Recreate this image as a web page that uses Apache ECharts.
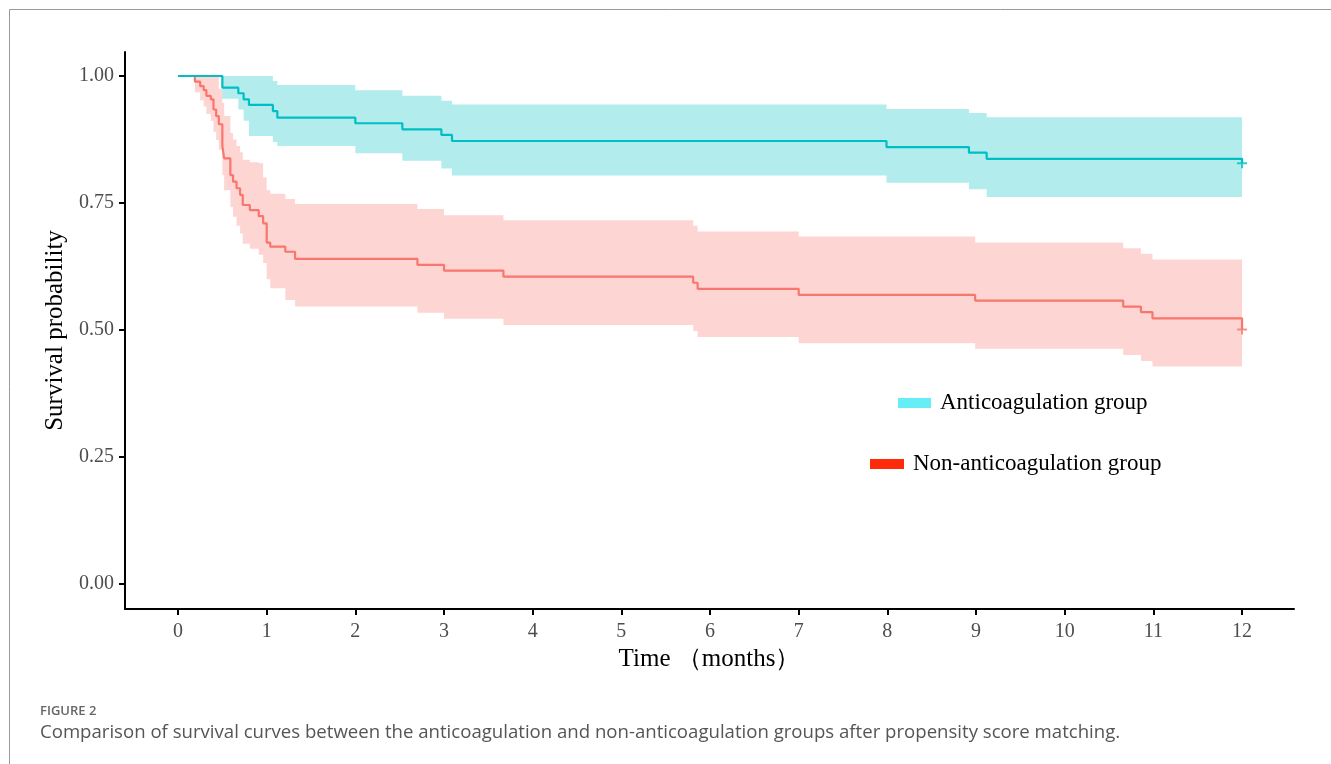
<!DOCTYPE html>
<html>
<head>
<meta charset="utf-8">
<script src="https://cdn.jsdelivr.net/npm/echarts@6/dist/echarts.min.js"></script>
<style>
html,body{margin:0;padding:0;background:#fff;}
#chart{width:1331px;height:764px;}
</style>
</head>
<body>
<div id="chart"></div>
<script>
// ---- data ----
const monthTicks = [0,1,2,3,4,5,6,7,8,9,10,11,12];
const probTicks = [0, 0.25, 0.5, 0.75, 1];
const endTime = 12;

// Anticoagulation group
const antiTime  = [0, 0.50, 0.68, 0.74, 0.80, 1.07, 1.12, 2.00, 2.53, 2.97, 3.09, 7.99, 8.92, 9.12];
const antiSurv  = [1.000, 0.977, 0.966, 0.954, 0.943, 0.931, 0.918, 0.907, 0.895, 0.884, 0.872, 0.860, 0.849, 0.837];
const antiLower = [1.000, 0.955, 0.934, 0.912, 0.882, 0.870, 0.862, 0.848, 0.833, 0.818, 0.804, 0.790, 0.777, 0.762];
const antiUpper = [1.000, 1.000, 1.000, 1.000, 1.000, 0.990, 0.982, 0.972, 0.961, 0.951, 0.944, 0.935, 0.927, 0.919];
const antiEndSurv = 0.828;

// Non-anticoagulation group
const nonTime  = [0, 0.19, 0.25, 0.29, 0.32, 0.37, 0.40, 0.43, 0.46, 0.50, 0.52, 0.59, 0.62, 0.66, 0.70, 0.73, 0.81, 0.91, 0.96, 1.00, 1.04, 1.21, 1.32, 2.70, 3.00, 3.67, 5.81, 5.86, 7.00, 8.99, 10.66, 10.86, 10.99];
const nonSurv  = [1.000, 0.989, 0.980, 0.972, 0.961, 0.954, 0.934, 0.921, 0.905, 0.862, 0.838, 0.805, 0.792, 0.779, 0.766, 0.746, 0.736, 0.724, 0.710, 0.672, 0.664, 0.654, 0.640, 0.628, 0.617, 0.605, 0.593, 0.581, 0.569, 0.558, 0.546, 0.535, 0.523];
const nonLower = [1.000, 0.968, 0.952, 0.940, 0.925, 0.912, 0.890, 0.874, 0.855, 0.805, 0.775, 0.742, 0.723, 0.705, 0.690, 0.670, 0.660, 0.648, 0.632, 0.600, 0.582, 0.559, 0.546, 0.534, 0.522, 0.510, 0.498, 0.486, 0.474, 0.463, 0.451, 0.439, 0.428];
const nonUpper = [1.000, 1.000, 1.000, 1.000, 1.000, 1.000, 1.000, 1.000, 0.975, 0.947, 0.921, 0.888, 0.875, 0.862, 0.850, 0.835, 0.830, 0.828, 0.800, 0.775, 0.768, 0.758, 0.748, 0.738, 0.726, 0.716, 0.705, 0.694, 0.684, 0.672, 0.661, 0.650, 0.639];
const nonEndSurv = 0.501;

const groupNames = ['Anticoagulation group', 'Non-anticoagulation group'];

// ---- styling ----
const TEAL = '#00BFC4', RED = '#F8766D';
const SERIF = '"Liberation Serif","Times New Roman",serif';
const plusPath = 'path://M4,0H6V4H10V6H6V10H4V6H0V4H4Z';

function bandSeries(times, lower, upper, color) {
  const rows = times.map((t, i) => [t, i + 1 < times.length ? times[i + 1] : endTime, lower[i], upper[i]]);
  return {
    type: 'custom', silent: true, z: 1, data: rows,
    encode: { x: [0, 1], y: [2, 3] },
    renderItem: function (params, api) {
      if (params.dataIndex !== 0) return null;
      const top = [], bot = [];
      rows.forEach(r => {
        top.push(api.coord([r[0], r[3]]), api.coord([r[1], r[3]]));
        bot.push(api.coord([r[0], r[2]]), api.coord([r[1], r[2]]));
      });
      return { type: 'polygon', shape: { points: top.concat(bot.reverse()) }, style: { fill: color, opacity: 0.3 } };
    }
  };
}
function lineData(times, surv, endSurv) {
  const d = times.map((t, i) => [t, surv[i]]);
  d.push([endTime, surv[surv.length - 1]]);
  d.push([endTime, endSurv]);
  return d;
}
function lineSeries(name, data, color) {
  return {
    name: name, type: 'line', step: 'end', data: data, showSymbol: false, silent: true, z: 3,
    lineStyle: { color: color, width: 2.2 }, animation: false
  };
}

const chart = echarts.init(document.getElementById('chart'), null, { renderer: 'canvas' });
const option = {
  animation: false,
  backgroundColor: '#fff',
  grid: { left: 125, right: 37, top: 52, bottom: 155 },
  xAxis: {
    type: 'value', min: -0.598, max: 12.586,
    name: 'Time （months）', nameLocation: 'middle', nameGap: 30,
    nameTextStyle: { fontFamily: SERIF, fontSize: 25, color: '#000' },
    axisLine: { onZero: false, lineStyle: { color: '#000', width: 2 } },
    axisTick: { show: true, customValues: monthTicks, length: 6, lineStyle: { color: '#000', width: 2 } },
    axisLabel: { customValues: monthTicks, fontFamily: SERIF, fontSize: 20, color: '#4d4d4d', margin: 13 },
    splitLine: { show: false }
  },
  yAxis: {
    type: 'value', min: -0.0492, max: 1.0472,
    name: 'Survival probability', nameLocation: 'middle', nameGap: 55,
    nameTextStyle: { fontFamily: SERIF, fontSize: 25, color: '#000' },
    axisLine: { show: true, onZero: false, lineStyle: { color: '#000', width: 2 } },
    axisTick: { show: true, customValues: probTicks, length: 6, lineStyle: { color: '#000', width: 2 } },
    axisLabel: { customValues: probTicks, formatter: v => v.toFixed(2), fontFamily: SERIF, fontSize: 20, color: '#4d4d4d', margin: 11 },
    splitLine: { show: false }
  },
  series: [
    bandSeries(nonTime, nonLower, nonUpper, RED),
    bandSeries(antiTime, antiLower, antiUpper, TEAL),
    lineSeries(groupNames[1], lineData(nonTime, nonSurv, nonEndSurv), RED),
    lineSeries(groupNames[0], lineData(antiTime, antiSurv, antiEndSurv), TEAL),
    { type: 'scatter', silent: true, z: 4, symbol: plusPath, symbolSize: 10,
      data: [[endTime, antiEndSurv]], itemStyle: { color: TEAL } },
    { type: 'scatter', silent: true, z: 4, symbol: plusPath, symbolSize: 10,
      data: [[endTime, nonEndSurv]], itemStyle: { color: RED } }
  ],
  graphic: [
    { type: 'line', shape: { x1: 9.5, y1: 9.5, x2: 1331, y2: 9.5 }, style: { stroke: '#999', lineWidth: 1 } },
    { type: 'line', shape: { x1: 9.5, y1: 9.5, x2: 9.5, y2: 764 }, style: { stroke: '#999', lineWidth: 1 } },
    { type: 'rect', shape: { x: 898, y: 398, width: 33, height: 10 }, style: { fill: '#66EEF6' } },
    { type: 'text', x: 940, y: 403, style: { text: groupNames[0], font: '23px ' + SERIF, fill: '#000', verticalAlign: 'middle' } },
    { type: 'rect', shape: { x: 870, y: 459, width: 34, height: 10 }, style: { fill: '#FF2A0A' } },
    { type: 'text', x: 913, y: 464, style: { text: groupNames[1], font: '23px ' + SERIF, fill: '#000', verticalAlign: 'middle' } },
    { type: 'text', x: 40, y: 711, style: { text: 'FIGURE 2', font: '600 13px "Open Sans"', fill: '#666', verticalAlign: 'middle' } },
    { type: 'text', x: 40, y: 733, style: { text: 'Comparison of survival curves between the anticoagulation and non-anticoagulation groups after propensity score matching.', font: '18.6px "Open Sans"', fill: '#555', verticalAlign: 'middle' } }
  ]
};
chart.setOption(option);
</script>
</body>
</html>
